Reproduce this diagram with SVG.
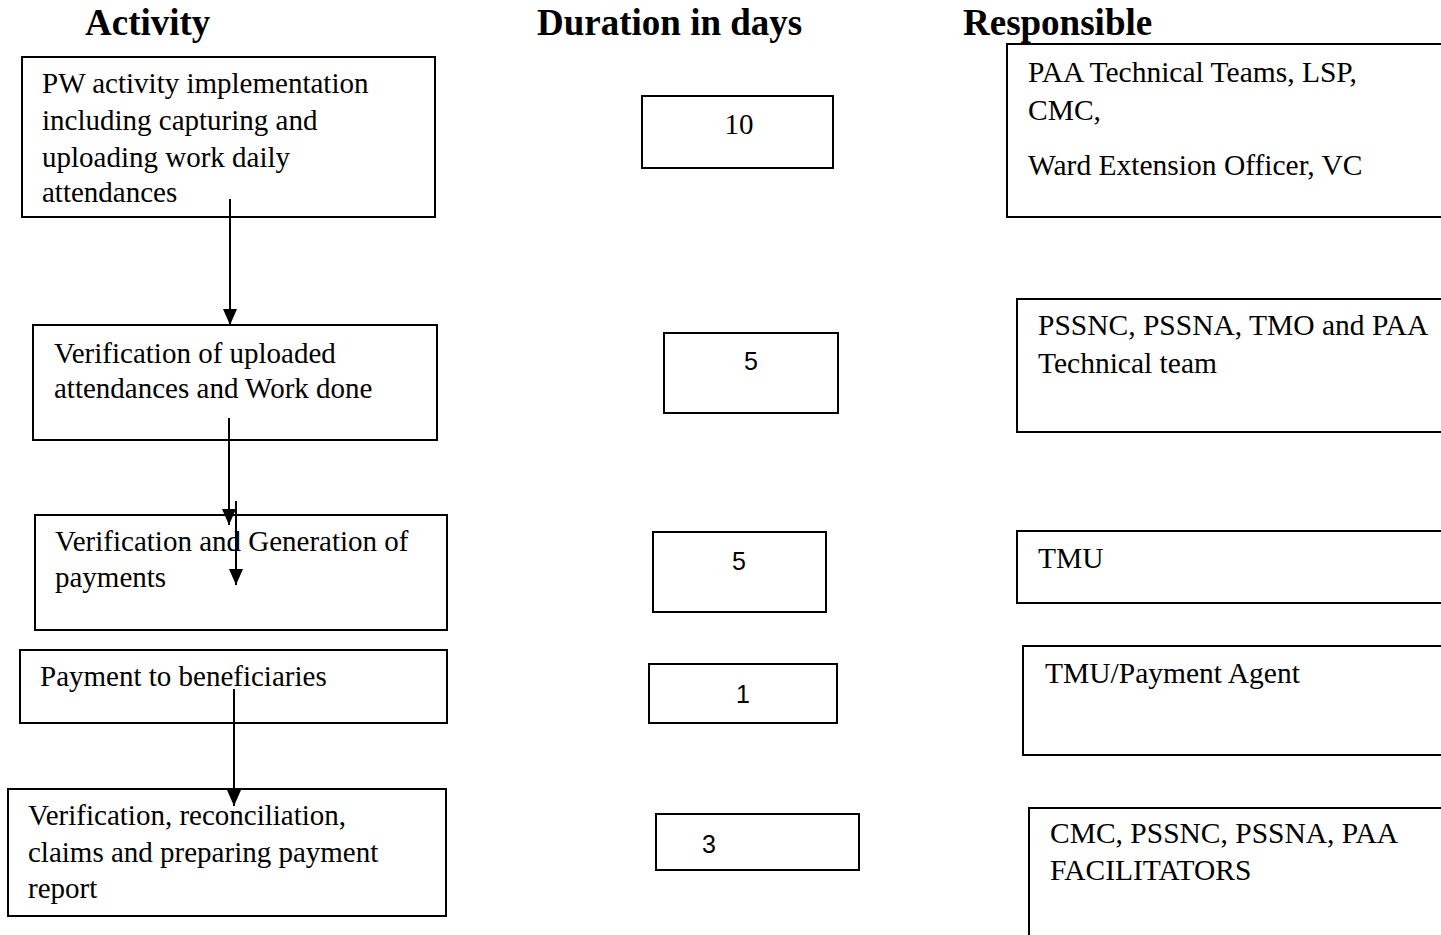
<svg xmlns="http://www.w3.org/2000/svg" width="1441" height="935" viewBox="0 0 1441 935">
<defs>
<style>
.box{fill:#fff;stroke:#000;stroke-width:2}
.t{font-family:"Liberation Serif","Times New Roman",serif;font-size:29px;fill:#000}
.r{font-size:29.5px}
.h{font-family:"Liberation Serif","Times New Roman",serif;font-size:37px;font-weight:bold;fill:#000}
.n{font-family:"Liberation Sans",Arial,sans-serif;font-size:25px;fill:#000;text-anchor:middle}
.c{stroke:#000;stroke-width:2;fill:none}
</style>
<marker id="ah" viewBox="0 0 16 14" refX="16" refY="7" markerWidth="16" markerHeight="14" markerUnits="userSpaceOnUse" orient="auto">
<path d="M0,0 L16,7 L0,14 z" fill="#000"/>
</marker>
</defs>
<rect width="1441" height="935" fill="#fff"/>
<g id="headings">
<text class="h" x="85" y="35">Activity</text>
<text class="h" x="537" y="35">Duration in days</text>
<text class="h" x="963" y="35">Responsible</text>
</g>
<g id="act1"><rect class="box" x="22" y="57" width="413" height="160"/>
<text class="t" x="42" y="93">PW activity implementation</text>
<text class="t" x="42" y="130">including capturing and</text>
<text class="t" x="42" y="167">uploading work daily</text>
<text class="t" x="42" y="202">attendances</text></g>
<g id="act2"><rect class="box" x="33" y="325" width="404" height="115"/>
<text class="t" x="54" y="363">Verification of uploaded</text>
<text class="t" x="54" y="398">attendances and Work done</text></g>
<g id="act3"><rect class="box" x="35" y="515" width="412" height="115"/>
<text class="t" x="55" y="551">Verification and Generation of</text>
<text class="t" x="55" y="587">payments</text></g>
<g id="act4"><rect class="box" x="20" y="650" width="427" height="73"/>
<text class="t" x="40" y="686">Payment to beneficiaries</text></g>
<g id="act5"><rect class="box" x="8" y="789" width="438" height="127"/>
<text class="t" x="28" y="825">Verification, reconciliation,</text>
<text class="t" x="28" y="862">claims and preparing payment</text>
<text class="t" x="28" y="898">report</text></g>
<g id="dur1"><rect class="box" x="642" y="96" width="191" height="72"/>
<text class="t" x="739" y="134" text-anchor="middle">10</text></g>
<g id="dur2"><rect class="box" x="664" y="333" width="174" height="80"/>
<text class="n" x="751" y="370">5</text></g>
<g id="dur3"><rect class="box" x="653" y="532" width="173" height="80"/>
<text class="n" x="739" y="570">5</text></g>
<g id="dur4"><rect class="box" x="649" y="664" width="188" height="59"/>
<text class="n" x="743" y="703">1</text></g>
<g id="dur5"><rect class="box" x="656" y="814" width="203" height="56"/>
<text class="n" x="709" y="853">3</text></g>
<g id="resp1"><rect class="box" x="1007" y="44" width="450" height="173"/>
<text class="t r" x="1028" y="82">PAA Technical Teams, LSP,</text>
<text class="t r" x="1028" y="120">CMC,</text>
<text class="t r" x="1028" y="175">Ward Extension Officer, VC</text></g>
<g id="resp2"><rect class="box" x="1017" y="299" width="440" height="133"/>
<text class="t r" x="1038" y="335">PSSNC, PSSNA, TMO and PAA</text>
<text class="t r" x="1038" y="373">Technical team</text></g>
<g id="resp3"><rect class="box" x="1017" y="531" width="440" height="72"/>
<text class="t r" x="1038" y="568">TMU</text></g>
<g id="resp4"><rect class="box" x="1023" y="646" width="434" height="109"/>
<text class="t r" x="1045" y="683">TMU/Payment Agent</text></g>
<g id="resp5"><rect class="box" x="1029" y="808" width="428" height="140"/>
<text class="t r" x="1050" y="843">CMC, PSSNC, PSSNA, PAA</text>
<text class="t r" x="1050" y="880">FACILITATORS</text></g>
<g id="connectors">
<line class="c" x1="230" y1="199" x2="230" y2="325" marker-end="url(#ah)"/>
<line class="c" x1="229" y1="418" x2="229" y2="525" marker-end="url(#ah)"/>
<line class="c" x1="236" y1="501" x2="236" y2="585" marker-end="url(#ah)"/>
<line class="c" x1="234" y1="689" x2="234" y2="806" marker-end="url(#ah)"/>
</g>
</svg>
